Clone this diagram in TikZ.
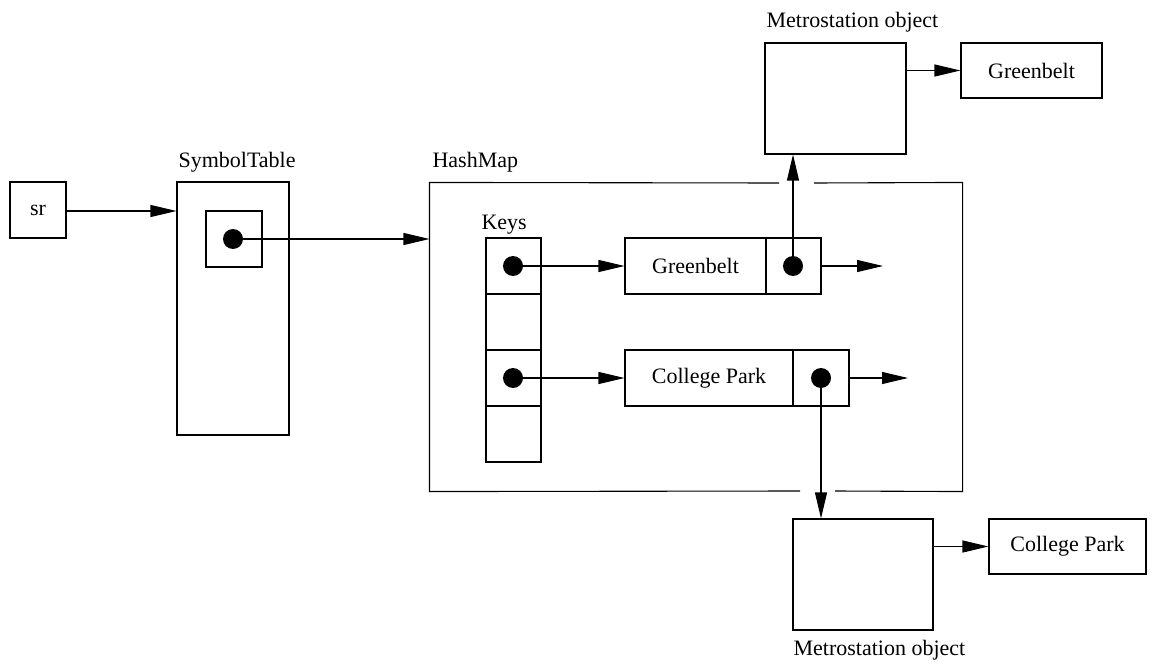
\documentclass[tikz,border=0pt]{standalone}
\usepackage{fontspec}
\setmainfont{Liberation Serif}
\usetikzlibrary{arrows.meta}
\begin{document}
\begin{tikzpicture}[x=1pt,y=-1pt,
  line width=1.1pt,
  every node/.style={font=\fontsize{22}{26}\selectfont},
  cell/.style={draw,rectangle,inner sep=0pt},
  lbl/.style={anchor=west,inner sep=0pt},
  dot/.style={circle,fill=black,inner sep=0pt,minimum size=20pt},
  ptr/.style={-{Triangle[length=26pt,width=12pt]}}]
\useasboundingbox (0,0) rectangle (1154,663);

% reference sr
\node[cell,minimum width=56pt,minimum height=56pt] (sr) at (38,210) {sr};

% symbol table object
\node[cell,minimum width=112pt,minimum height=253pt] (symtab) at (233,308.5) {};
\node[lbl] (symlbl) at (178,162) {SymbolTable};
\node[cell,minimum width=56pt,minimum height=56pt] (slot) at (234,239) {};
\node[dot] (sdot) at (233,239) {};

% hash map outline, with openings for the outgoing pointers
\node[minimum width=532pt,minimum height=308pt,inner sep=0pt] (hm) at (696,337) {};
\node[lbl] (hmlbl) at (432,162) {HashMap};
\draw (779,183) -- (hm.north west) -- (hm.south west) -- (800,491);
\draw (835,491) -- (hm.south east) -- (hm.north east) -- (814,183);

% key array
\node[lbl] (keyslbl) at (481,225) {Keys};
\node[cell,minimum width=55pt,minimum height=56pt] (k1) at (513.5,266) {};
\node[cell,minimum width=55pt,minimum height=56pt] (k2) at (513.5,322) {};
\node[cell,minimum width=55pt,minimum height=56pt] (k3) at (513.5,378) {};
\node[cell,minimum width=55pt,minimum height=56pt] (k4) at (513.5,434) {};
\node[dot] (kd1) at (513,266) {};
\node[dot] (kd3) at (513,378) {};

% entry nodes
\node[cell,minimum width=141pt,minimum height=56pt] (gbkey) at (695.5,266) {Greenbelt};
\node[cell,minimum width=55pt,minimum height=56pt] (gbptr) at (793.5,266) {};
\node[dot] (gbdot) at (793,266) {};
\coordinate (gbnext) at (883,266);

\node[cell,minimum width=168pt,minimum height=56pt] (cpkey) at (709,378) {College Park};
\node[cell,minimum width=56pt,minimum height=56pt] (cpptr) at (821,378) {};
\node[dot] (cpdot) at (821,378) {};
\coordinate (cpnext) at (908,378);

% metro station objects
\node[lbl] (mtlbl) at (766,22) {Metrostation object};
\node[cell,minimum width=141pt,minimum height=111pt] (mt) at (835.5,98.5) {};
\node[cell,minimum width=141pt,minimum height=55pt] (gbname) at (1031.5,70.5) {Greenbelt};

\node[cell,minimum width=140pt,minimum height=111pt] (mb) at (863,574.5) {};
\node[lbl] (mblbl) at (793,650) {Metrostation object};
\node[cell,minimum width=157pt,minimum height=55pt] (cpname) at (1067.5,546.5) {College Park};

% pointers
\draw[ptr] (sr.east |- 0,211) -- (symtab.west |- 0,211);
\draw[ptr] (sdot.center) -- (hm.west |- sdot.center);
\draw[ptr] (kd1.center) -- (gbkey.west);
\draw[ptr] (kd3.center) -- (cpkey.west);
\draw[ptr] (gbptr.east) -- (gbnext);
\draw[ptr] (cpptr.east) -- (cpnext);
\draw[ptr] (gbdot.center) -- (gbdot.center |- mt.south);
\draw[ptr] (cpdot.center) -- (cpdot.center |- mb.north);
\draw[ptr] (mt.east |- gbname.west) -- (gbname.west);
\draw[ptr] (mb.east |- cpname.west) -- (cpname.west);
\end{tikzpicture}
\end{document}
